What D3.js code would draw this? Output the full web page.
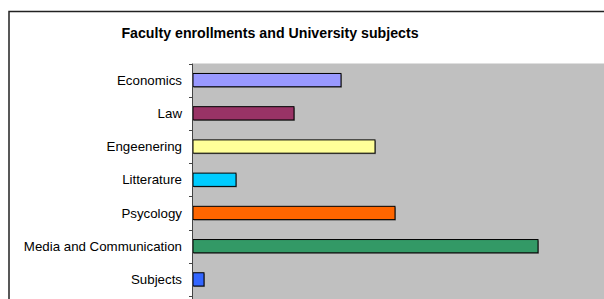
<!DOCTYPE html>
<html>
<head>
<meta charset="utf-8">
<script src="https://cdn.jsdelivr.net/npm/d3@7"></script>
<style>
  body { margin: 0; background: #fff; }
  text { font-family: "Liberation Sans", Arial, sans-serif; }
</style>
</head>
<body>
<script>
var categories = ['Economics', 'Law', 'Engeenering', 'Litterature', 'Psycology', 'Media and Communication', 'Subjects'];
var values = [14.8, 10.1, 18.2, 4.3, 20.2, 34.5, 1.1];
var colors = ['#9999FF', '#993366', '#FFFF99', '#00CCFF', '#FF6600', '#339966', '#3366FF'];

var data = categories.map(function (c, i) { return { name: c, value: values[i], color: colors[i] }; });

var width = 604, height = 299;
var plotLeft = 193, plotTop = 63.5, plotBottom = 296;

var svg = d3.select('body').append('svg').attr('width', width).attr('height', height);

// chart area border
svg.append('rect')
  .attr('x', 9).attr('y', 11.5)
  .attr('width', 620).attr('height', 320)
  .attr('fill', '#fff')
  .attr('stroke', '#222')
  .attr('stroke-width', 1.5);

svg.append('text')
  .attr('x', 270).attr('y', 37.5)
  .attr('text-anchor', 'middle')
  .attr('font-size', 14.2).attr('font-weight', 'bold')
  .text('Faculty enrollments and University subjects');

var x = d3.scaleLinear().domain([0, 41.1]).range([plotLeft, 604]);
var y = d3.scaleBand().domain(categories).range([plotTop, plotBottom]).paddingInner(0.6).paddingOuter(0.3);

// plot area
svg.append('rect')
  .attr('x', plotLeft).attr('y', plotTop)
  .attr('width', width - plotLeft).attr('height', 300 - plotTop)
  .attr('fill', '#C0C0C0');

// bar shadows
svg.selectAll('rect.shadow').data(data).enter().append('rect')
  .attr('class', 'shadow')
  .attr('x', x(0) + 1)
  .attr('y', function (d) { return y(d.name) + 1; })
  .attr('width', function (d) { return x(d.value) - x(0); })
  .attr('height', y.bandwidth())
  .attr('fill', '#555')
  .attr('fill-opacity', 0.6);

svg.selectAll('rect.bar').data(data).enter().append('rect')
  .attr('class', 'bar')
  .attr('x', x(0))
  .attr('y', function (d) { return y(d.name); })
  .attr('width', function (d) { return x(d.value) - x(0); })
  .attr('height', y.bandwidth())
  .attr('fill', function (d) { return d.color; })
  .attr('stroke', '#000')
  .attr('stroke-width', 1);

// y axis with ticks between categories
var edges = d3.range(categories.length + 1).map(function (i) { return plotTop + i * y.step(); });
var g = svg.append('g');
g.append('line')
  .attr('x1', plotLeft - 0.5).attr('x2', plotLeft - 0.5)
  .attr('y1', plotTop).attr('y2', 300)
  .attr('stroke', '#444');
g.selectAll('line.tick').data(edges).enter().append('line')
  .attr('class', 'tick')
  .attr('x1', plotLeft - 4).attr('x2', plotLeft)
  .attr('y1', function (d) { return Math.round(d) + 0.5; })
  .attr('y2', function (d) { return Math.round(d) + 0.5; })
  .attr('stroke', '#444');

g.selectAll('text.label').data(categories).enter().append('text')
  .attr('class', 'label')
  .attr('x', 182)
  .attr('y', function (d) { return y(d) + y.bandwidth() / 2; })
  .attr('dy', '0.35em')
  .attr('text-anchor', 'end')
  .attr('font-size', 13.3)
  .text(function (d) { return d; });
</script>
</body>
</html>
